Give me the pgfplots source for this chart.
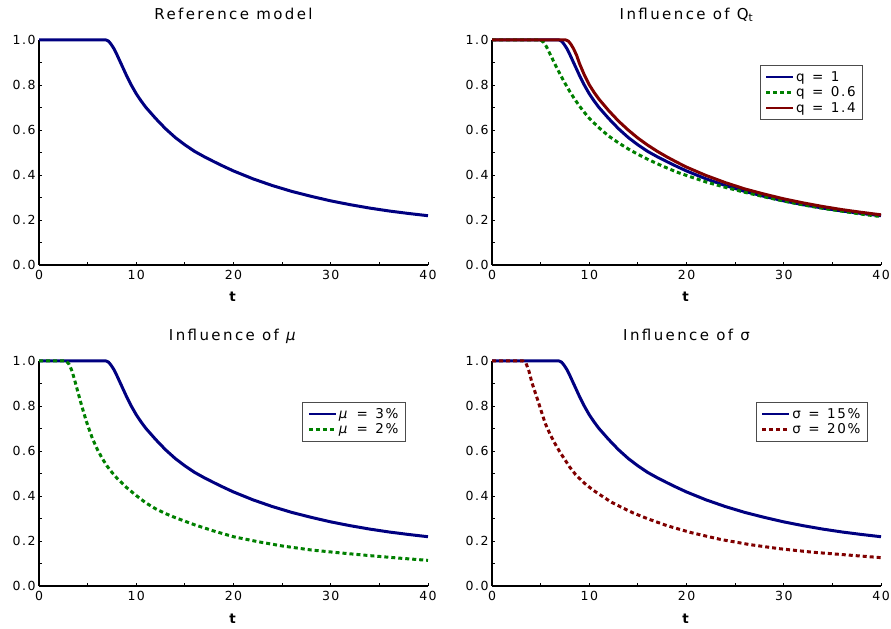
\documentclass[border=0pt]{standalone}
\usepackage{fontspec}
\setmainfont{DejaVu Sans}[LetterSpace=12]
\usepackage{pgfplots}
\pgfplotsset{compat=1.18}
\usepackage{pgfplotstable}

\definecolor{navyc}{RGB}{0,0,128}
\definecolor{redc}{RGB}{128,0,0}
\definecolor{greenc}{RGB}{0,128,0}

\newcommand{\eq}{\hspace{0.55em}=\hspace{0.55em}}

\pgfplotstableread{
t v
0 1.0
6.9 1.0
7.15 0.995
7.4 0.982
7.7 0.962
8.0 0.936
8.5 0.889
9.0 0.842
9.5 0.799
10 0.761
10.5 0.729
11 0.700
12 0.651
13 0.606
14 0.567
15 0.534
16 0.505
17 0.481
18 0.459
19 0.438
20 0.418
22 0.383
24 0.353
26 0.327
28 0.305
30 0.285
32 0.268
34 0.253
36 0.240
38 0.229
40 0.219
}\refdata

\pgfplotstableread{
t v
0 1.0
7.6 1.0
7.85 0.995
8.1 0.982
8.4 0.960
8.7 0.932
9.0 0.895
9.5 0.844
10 0.801
10.5 0.767
11 0.737
12 0.686
13 0.640
14 0.600
15 0.564
16 0.533
17 0.505
18 0.480
19 0.457
20 0.435
22 0.398
24 0.366
26 0.338
28 0.315
30 0.294
32 0.276
34 0.260
36 0.246
38 0.234
40 0.223
}\qhigh

\pgfplotstableread{
t v
0 1.0
5.0 1.0
5.3 0.99
5.6 0.97
6.0 0.935
6.5 0.89
7.0 0.848
7.5 0.808
8.0 0.771
8.5 0.737
9.0 0.706
9.5 0.678
10 0.652
11 0.610
12 0.573
13 0.543
14 0.516
15 0.492
16 0.470
17 0.450
18 0.431
19 0.413
20 0.398
22 0.369
24 0.345
26 0.323
28 0.303
30 0.284
32 0.267
34 0.252
36 0.239
38 0.226
40 0.215
}\qlow

\pgfplotstableread{
t v
0 1.0
2.8 1.0
3.1 0.985
3.4 0.955
3.7 0.91
4.0 0.862
4.3 0.815
4.6 0.77
5.0 0.715
5.5 0.655
6.0 0.607
6.5 0.567
7.0 0.533
7.5 0.505
8.0 0.480
9.0 0.438
10 0.402
11 0.369
12 0.343
13 0.322
14 0.304
15 0.288
16 0.272
18 0.244
20 0.219
22.5 0.197
25 0.178
28 0.160
31 0.147
34 0.135
37 0.124
40 0.114
}\mulow

\pgfplotstableread{
t v
0 1.0
3.2 1.0
3.5 0.99
3.8 0.955
4.1 0.905
4.4 0.865
4.7 0.827
5.0 0.785
5.5 0.72
6.0 0.672
6.5 0.631
7.0 0.594
7.5 0.561
8.0 0.528
8.6 0.495
9.5 0.457
10.4 0.426
11.4 0.397
12.3 0.372
13.3 0.350
14.5 0.325
16 0.299
18 0.268
20.5 0.237
23.5 0.207
26.5 0.184
29.5 0.166
33 0.150
36.5 0.138
40 0.126
}\sighigh

\pgfplotsset{
  panel/.style={
    scale only axis, width=389bp, height=225bp,
    xmin=0, xmax=40, ymin=0, ymax=1,
    clip=false,
    axis x line*=bottom, axis y line*=left,
    axis line style={-, line width=1.5bp, black},
    xtick={0,10,20,30,40}, ytick={0,0.2,0.4,0.6,0.8,1.0},
    minor x tick num=1, minor y tick num=1,
    tick align=inside, major tick length=3bp, minor tick length=3bp,
    tick style={black, line width=0.8bp},
    yticklabel style={/pgf/number format/.cd, fixed, fixed zerofill, precision=1, assume math mode=true},
    xticklabel style={/pgf/number format/assume math mode=true, yshift=-2bp},
    tick label style={font=\fontsize{12.5bp}{14bp}\selectfont},
    xlabel={\textbf{t}},
    xlabel style={at={(0.5,0)}, anchor=base, yshift=-37bp, font=\fontsize{13.5bp}{15bp}\selectfont},
    title style={at={(0.5,1)}, anchor=base, yshift=15bp, font=\fontsize{15bp}{17bp}\selectfont\addfontfeature{LetterSpace=16}},
    legend style={anchor=north east, draw=black!70, line width=0.9bp,
      font=\fontsize{13.5bp}{15bp}\selectfont, inner xsep=5bp, inner ysep=4bp,
      row sep=0pt, cells={anchor=west}},
    legend cell align=left,
    legend image code/.code={\draw[##1, line width=2.2bp] (0bp,0bp) -- (27bp,0bp);},
  },
  curve/.style={line width=3bp, line join=round},
  dsh/.style={dash pattern=on 4bp off 3bp},
}

\begin{document}
\begin{tikzpicture}
\useasboundingbox (0,0) rectangle (891bp,629bp);

\begin{axis}[panel, at={(39bp,364bp)}, anchor=south west, title={Reference model}]
\addplot[curve, navyc] table[x=t,y=v] {\refdata};
\end{axis}

\begin{axis}[panel, at={(492bp,364bp)}, anchor=south west, title={Influence of Q\textsubscript{t}},
  legend style={at={(0.954,0.889)}}]
\addplot[curve, navyc] table[x=t,y=v] {\refdata};
\addlegendentry{q\eq 1}
\addplot[curve, greenc, dsh] table[x=t,y=v] {\qlow};
\addlegendentry{q\eq 0.6}
\addplot[curve, redc] table[x=t,y=v] {\qhigh};
\addlegendentry{q\eq 1.4}
\end{axis}

\begin{axis}[panel, at={(39bp,43bp)}, anchor=south west, title={Influence of \textit{μ}},
  legend style={at={(0.943,0.819)}}]
\addplot[curve, navyc] table[x=t,y=v] {\refdata};
\addlegendentry{\textit{μ}\eq 3\%}
\addplot[curve, greenc, dsh] table[x=t,y=v] {\mulow};
\addlegendentry{\textit{μ}\eq 2\%}
\end{axis}

\begin{axis}[panel, at={(492bp,43bp)}, anchor=south west, title={Influence of σ},
  legend style={at={(0.966,0.819)}}]
\addplot[curve, navyc] table[x=t,y=v] {\refdata};
\addlegendentry{σ\eq 15\%}
\addplot[curve, redc, dsh] table[x=t,y=v] {\sighigh};
\addlegendentry{σ\eq 20\%}
\end{axis}
\end{tikzpicture}
\end{document}
